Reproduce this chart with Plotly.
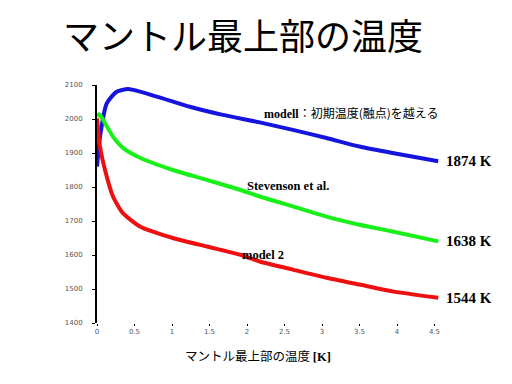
import plotly.graph_objects as go

# Data (time axis, temperature in K)
blue_x = [0, 0.04, 0.13, 0.262, 0.417, 0.795, 1.238, 1.678, 2.17, 2.61, 3.06, 3.50, 3.94, 4.55]
blue_y = [1860, 1948, 2046, 2080, 2088, 2066, 2036, 2012, 1990, 1968, 1944, 1919, 1900, 1876]

green_x = [0, 0.03, 0.107, 0.213, 0.346, 0.573, 1.012, 1.461, 1.904, 2.17, 2.61, 3.06, 3.50, 3.94, 4.55]
green_y = [2007, 2014, 1988, 1948, 1915, 1886, 1850, 1821, 1792, 1772, 1743, 1713, 1689, 1669, 1640]

red_x = [0, 0.04, 0.107, 0.213, 0.346, 0.573, 1.012, 1.461, 1.904, 2.17, 2.61, 3.06, 3.50, 3.94, 4.55]
red_y = [2002, 1919, 1850, 1772, 1723, 1684, 1650, 1625, 1601, 1581, 1557, 1533, 1513, 1493, 1474]

x_tickvals = [0, 0.5, 1, 1.5, 2, 2.5, 3, 3.5, 4, 4.5]
x_ticktext = ["0", "0.5", "1", "1.5", "2", "2.5", "3", "3.5", "4", "4.5"]
y_tickvals = [1400, 1500, 1600, 1700, 1800, 1900, 2000, 2100]

end_labels = ["1874 K", "1638 K", "1544 K"]
series_names = ["modell", "Stevenson et al.", "model 2"]

SERIF = "Liberation Serif, Times New Roman, serif"
JP = "Noto Sans CJK JP, sans-serif"
X_MAX = 4.6

fig = go.Figure()
for xs, ys, col, name in [
    (blue_x, blue_y, "#1414dc", series_names[0]),
    (green_x, green_y, "#19f019", series_names[1]),
    (red_x, red_y, "#ee1010", series_names[2]),
]:
    fig.add_trace(go.Scatter(x=xs, y=ys, mode="lines", name=name,
                             line=dict(color=col, width=4, shape="spline", smoothing=0.6),
                             showlegend=False))

# In-plot labels
fig.add_annotation(x=2.2, y=2018, xref="x", yref="y", xanchor="left", yanchor="middle",
                   showarrow=False,
                   text=f'<span style="font-family:{SERIF}"><b>{series_names[0]}</b></span>：初期温度(融点)を越える',
                   font=dict(family=JP, size=12, color="black"))
fig.add_annotation(x=1.97, y=1804, xref="x", yref="y", xanchor="left", yanchor="middle",
                   showarrow=False, text=f"<b>{series_names[1]}</b>",
                   font=dict(family=SERIF, size=12.5, color="black"))
fig.add_annotation(x=1.90, y=1601, xref="x", yref="y", xanchor="left", yanchor="middle",
                   showarrow=False, text=f"<b>{series_names[2]}</b>",
                   font=dict(family=SERIF, size=12.5, color="black"))

# End-value labels just right of the line ends (paper x so they are not hidden)
for xs, ys, lab in zip([blue_x, green_x, red_x], [blue_y, green_y, red_y], end_labels):
    fig.add_annotation(x=(xs[-1] + 0.07) / X_MAX, y=ys[-1], xref="paper", yref="y",
                       xanchor="left", yanchor="middle", showarrow=False,
                       text=f"<b>{lab}</b>", font=dict(family=SERIF, size=15, color="black"))

# X axis title
fig.add_annotation(x=0.467, y=-0.09, xref="paper", yref="paper", xanchor="center", yanchor="top",
                   showarrow=False,
                   text=f'マントル最上部の温度 <span style="font-family:{SERIF}"><b>[K]</b></span>',
                   font=dict(family=JP, size=12.5, color="black"))

fig.update_layout(
    width=512, height=384,
    margin=dict(l=89, r=78, t=77, b=69),
    paper_bgcolor="white", plot_bgcolor="white",
    title=dict(text="マントル最上部の温度", x=0.459, xanchor="center", y=0.9245, yanchor="middle",
               font=dict(family=JP, size=36, color="black")),
    xaxis=dict(range=[0, X_MAX], tickvals=x_tickvals, ticktext=x_ticktext,
               showgrid=False, zeroline=False, showline=False,
               ticks="outside", ticklen=2, tickcolor="black",
               tickfont=dict(family="DejaVu Sans", size=7, color="#555")),
    yaxis=dict(range=[1400, 2100], tickvals=y_tickvals,
               showgrid=False, zeroline=False, showline=True, linecolor="black", linewidth=2,
               ticks="outside", ticklen=3, tickcolor="black", ticklabelstandoff=8,
               tickfont=dict(family="DejaVu Sans", size=7, color="#555")),
)

fig.write_html("out.html")
